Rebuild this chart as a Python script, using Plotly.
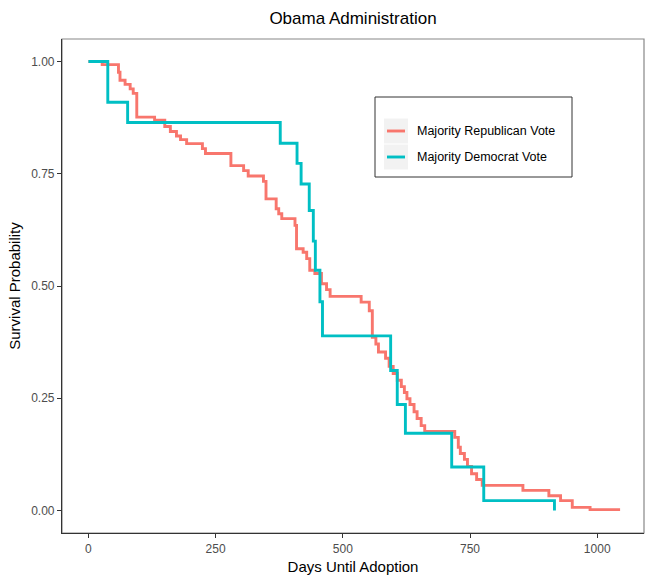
import plotly.graph_objects as go

# Kaplan-Meier step data
rep_days = [0, 27, 59, 62, 72, 82, 88, 95, 130, 150, 161, 173, 181, 193, 224, 230,
            280, 305, 314, 344, 349, 369, 374, 380, 406, 409, 422, 429, 435, 445,
            458, 468, 475, 536, 552, 558, 565, 570, 584, 591, 599, 607, 615, 621,
            626, 632, 640, 646, 654, 661, 720, 727, 731, 739, 745, 753, 763, 774,
            854, 905, 928, 951, 986, 1045]
rep_surv = [1.0, 0.993, 0.976, 0.958, 0.949, 0.939, 0.929, 0.876, 0.869, 0.855,
            0.844, 0.834, 0.826, 0.817, 0.806, 0.795, 0.768, 0.757, 0.745, 0.733,
            0.694, 0.672, 0.661, 0.650, 0.635, 0.583, 0.575, 0.561, 0.535, 0.528,
            0.505, 0.492, 0.477, 0.464, 0.445, 0.386, 0.371, 0.353, 0.339, 0.321,
            0.305, 0.290, 0.276, 0.263, 0.249, 0.236, 0.220, 0.205, 0.189, 0.176,
            0.163, 0.141, 0.127, 0.114, 0.098, 0.082, 0.069, 0.056, 0.045, 0.033,
            0.022, 0.007, 0.002, 0.002]

dem_days = [0, 38, 77, 377, 410, 418, 434, 442, 446, 455, 460, 594, 607, 623,
            714, 777, 916]
dem_surv = [1.0, 0.909, 0.864, 0.818, 0.773, 0.727, 0.668, 0.600, 0.535, 0.465,
            0.389, 0.312, 0.236, 0.172, 0.097, 0.022, 0.0]

x_ticks = [0, 250, 500, 750, 1000]
y_ticks = [0.0, 0.25, 0.5, 0.75, 1.0]
y_tick_labels = ["0.00", "0.25", "0.50", "0.75", "1.00"]

series_names = ["Majority Republican Vote", "Majority Democrat Vote"]
series_colors = ["#F8766D", "#00BFC4"]

FONT = "Liberation Sans, Arial, Helvetica, sans-serif"
W, H = 647, 575
ML, MR, MT, MB = 62, 3, 39, 42
PW, PH = W - ML - MR, H - MT - MB


def px_x(x):
    return (x - ML) / PW


def px_y(y):
    return (H - MB - y) / PH


fig = go.Figure()
fig.add_trace(go.Scatter(x=rep_days, y=rep_surv, mode="lines", line_shape="hv",
                         name=series_names[0], showlegend=False,
                         line=dict(color=series_colors[0], width=2.9)))
fig.add_trace(go.Scatter(x=dem_days, y=dem_surv, mode="lines", line_shape="hv",
                         name=series_names[1], showlegend=False,
                         line=dict(color=series_colors[1], width=2.9)))

fig.update_layout(
    width=W, height=H,
    margin=dict(l=ML, r=MR, t=MT, b=MB, autoexpand=False),
    paper_bgcolor="white", plot_bgcolor="white",
    font=dict(family=FONT, color="black"),
    title=dict(text="Obama Administration", xref="paper", x=0.5, xanchor="center",
               y=1 - 18 / H, yanchor="middle", font=dict(size=17, color="black")),
    xaxis=dict(range=[-52, 1092], tickvals=x_ticks, showgrid=False, zeroline=False,
               automargin=False,
               showline=True, linecolor="#333333", linewidth=1.2,
               ticks="outside", ticklen=4, tickcolor="#333333",
               tickfont=dict(size=12, color="#4D4D4D"),
               title=dict(text="Days Until Adoption", font=dict(size=15), standoff=6)),
    yaxis=dict(range=[-0.05, 1.05], tickvals=y_ticks, ticktext=y_tick_labels,
               showgrid=False, zeroline=False, automargin=False,
               showline=True, linecolor="#333333", linewidth=1.2,
               ticks="outside", ticklen=4, tickcolor="#333333",
               tickfont=dict(size=12, color="#4D4D4D"),
               title=dict(text="Survival Probability", font=dict(size=15), standoff=6)),
    showlegend=False,
)

# panel border (top/right)
fig.add_shape(type="rect", xref="paper", yref="paper", x0=0, y0=0, x1=1, y1=1,
              line=dict(color="#888888", width=1.2), layer="below")

# manual legend (ggplot style)
fig.add_shape(type="rect", xref="paper", yref="paper",
              x0=px_x(375), x1=px_x(572), y0=px_y(177), y1=px_y(97),
              line=dict(color="#333333", width=1), fillcolor="white")
key_rows = [131, 157]
for i, yc in enumerate(key_rows):
    fig.add_shape(type="rect", xref="paper", yref="paper",
                  x0=px_x(384), x1=px_x(408), y0=px_y(yc + 12.5), y1=px_y(yc - 12.5),
                  line=dict(width=0), fillcolor="#F2F2F2")
    fig.add_shape(type="line", xref="paper", yref="paper",
                  x0=px_x(387), x1=px_x(405), y0=px_y(yc), y1=px_y(yc),
                  line=dict(color=series_colors[i], width=2.9))
    fig.add_annotation(xref="paper", yref="paper", x=px_x(415), y=px_y(yc),
                       xanchor="left", yanchor="middle", showarrow=False,
                       text=series_names[i], font=dict(size=12.5, color="black"))

fig.write_html(
    "out.html",
    config={"displayModeBar": False},
    post_script="document.body.style.margin='0';document.body.style.overflow='hidden';",
)
